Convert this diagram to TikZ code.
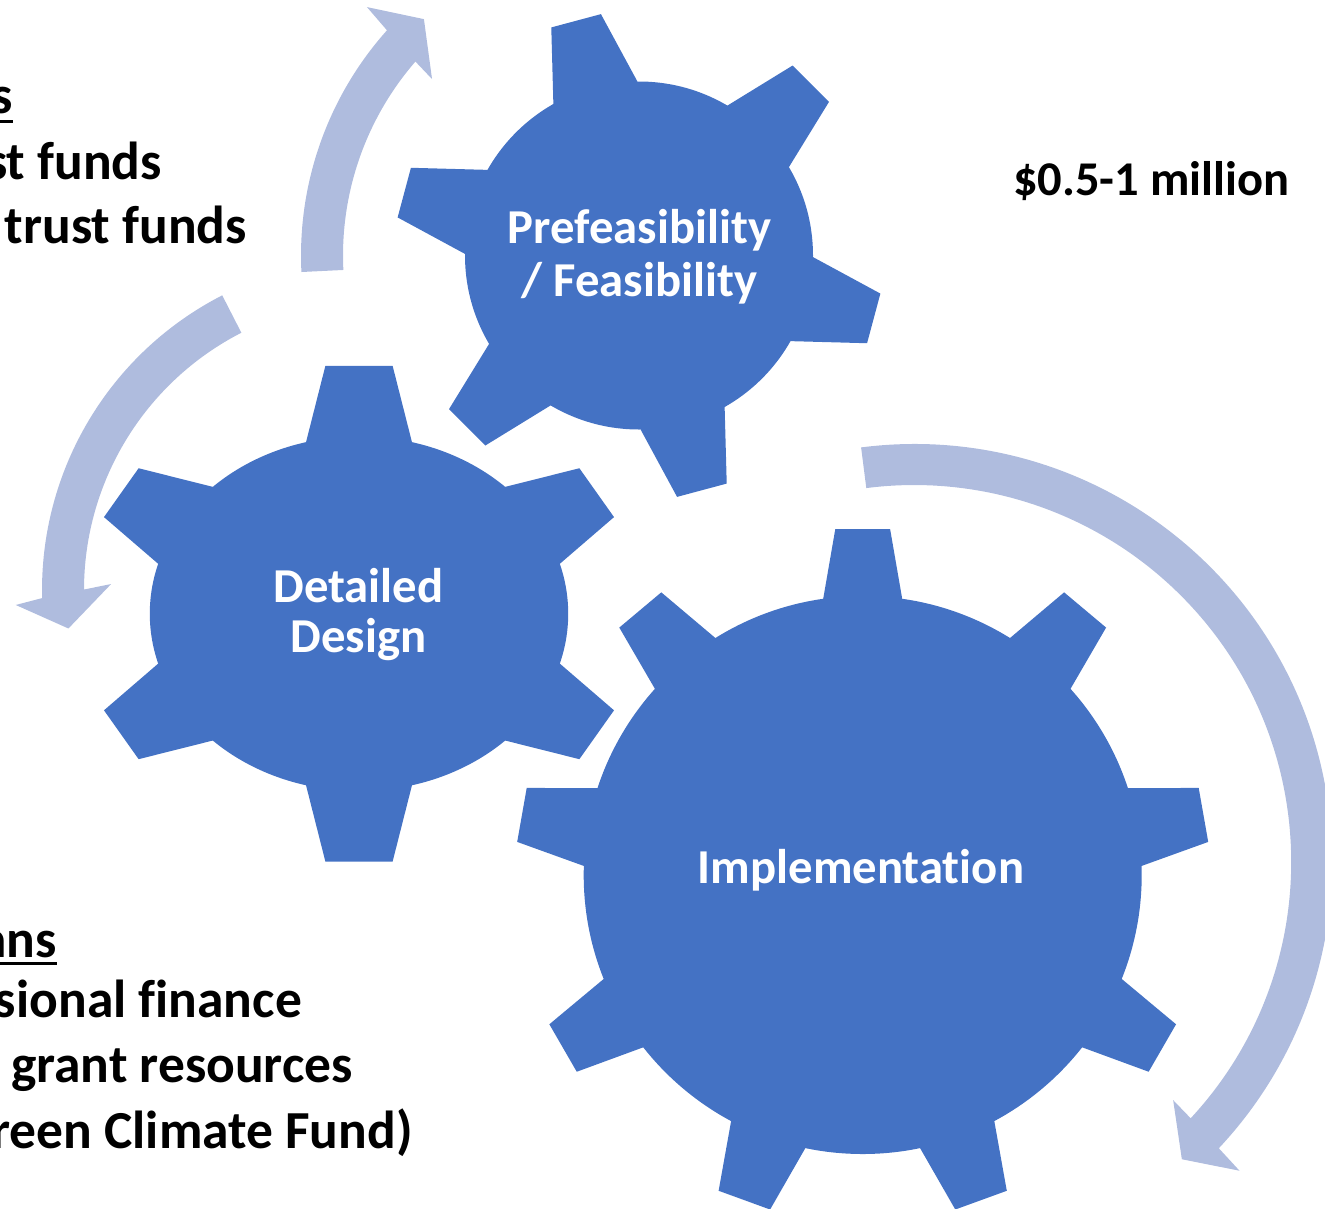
\documentclass[tikz,border=0pt]{standalone}
\usepackage{fontspec}
\setmainfont{Carlito}[Ligatures=NoCommon,RawFeature=-calt]
\definecolor{gearblue}{HTML}{4472C4}
\definecolor{cyclearrow}{RGB}{175,188,222}
\tikzset{
  gearfill/.style={fill=gearblue},
  arrowfill/.style={fill=cyclearrow},
  geartext/.style={text=white, font=\bfseries\fontsize{48.7}{53}\selectfont, align=center, inner sep=0pt, anchor=base},
  sidetext/.style={text=black, font=\bfseries\fontsize{53.5}{64}\selectfont, inner sep=0pt, anchor=base east},
  costtext/.style={text=black, font=\bfseries\fontsize{48.5}{58}\selectfont, inner sep=0pt, anchor=base west},
  ulinestyle/.style={line width=3pt, draw=black}
}
\begin{document}
\begin{tikzpicture}[x=1pt,y=-1pt]
\useasboundingbox (0,0) rectangle (1325,1208);
\clip (0,0) rectangle (1325,1208);
% cycle arrows
\begin{scope}[shift={(639,255.5)},yscale=-1]
\fill[arrowfill] (182.8:338) arc[start angle=182.8,end angle=138.22,radius=338] -- (137.6:368.4) -- (132.3:319.6) -- (139.55:272) -- (139.06:296) arc[start angle=139.06,end angle=182.8,radius=296] -- cycle;
\end{scope}
\begin{scope}[shift={(373,590)},yscale=-1]
\fill[arrowfill] (117.1:331) arc[start angle=117.1,end angle=181.4,radius=331] -- (182.4:357.6) -- (187.2:307) -- (178.7:262) -- (179.9:289) arc[start angle=179.9,end angle=117.1,radius=289] -- cycle;
\end{scope}
\begin{scope}[shift={(914.2,862)},yscale=-1]
\fill[arrowfill] (97.3:418) arc[start angle=97.3,end angle=-43.22,radius=418] -- (-43.5:448.5) -- (-48:400) -- (-42.6:351.8) -- (-42.83:377) arc[start angle=-42.83,end angle=97.3,radius=377] -- cycle;
\end{scope}
% gear 1
\begin{scope}[shift={(639,255.5)},yscale=-1]
\fill[gearfill] (0,0) circle[radius=174];
\foreach \a in {105,165,...,405}
  \fill[gearfill,rotate=-\a] (0,0) -- (168.5,43.5) -- (243,25.7) -- (243,-25.7) -- (168.5,-43.5) -- cycle;
\end{scope}
% gear 2
\begin{scope}[shift={(359,613.7)},yscale=-1,xscale=1.18]
\fill[gearfill] (0,0) circle[radius=177.3];
\foreach \a/\r in {90/247.8,270/247.8,31/235,-31/235,149/235,211/235}
  \fill[gearfill,rotate=-\a] (0,0) -- (171.5,44.9) -- (\r,28.5) -- (\r,-28.5) -- (171.5,-44.9) -- cycle;
\end{scope}
% gear 3
\begin{scope}[shift={(862.7,875)},yscale=-1]
\fill[gearfill] (0,0) circle[radius=279];
\foreach \a in {90,130,...,410}
  \fill[gearfill,rotate=-\a] (0,0) -- (276.2,39.5) -- (346,27.4) -- (346,-27.4) -- (276.2,-39.5) -- cycle;
\end{scope}
% gear labels
\node[geartext] (pf) at (639.5,296) {Prefeasibility\\/ Feasibility};
\node[geartext,font=\bfseries\fontsize{48.7}{50.6}\selectfont] (dd) at (358.5,652.6) {Detailed\\Design};
\node[geartext] (im) at (861,883) {Implementation};
% side texts
\node[costtext] (cost) at (1013,195) {\$0.5-1 million};
\node[sidetext] (tl1) at (13,113.3) {s};
\node[sidetext] (tl2) at (162,179) {st funds};
\node[sidetext] (tl3) at (247,243) {trust funds};
\draw[ulinestyle] ([yshift=-8pt]tl1.base west) -- ([yshift=-8pt]tl1.base east);
\node[sidetext] (bl1) at (57,957) {ans};
\node[sidetext] (bl2) at (302,1017) {sional finance};
\node[sidetext] (bl3) at (353,1082) {grant resources};
\node[sidetext] (bl4) at (413,1148) {reen Climate Fund)};
\draw[ulinestyle] ([yshift=-6pt]bl1.base west) -- ([yshift=-6pt]bl1.base east);
\end{tikzpicture}
\end{document}
